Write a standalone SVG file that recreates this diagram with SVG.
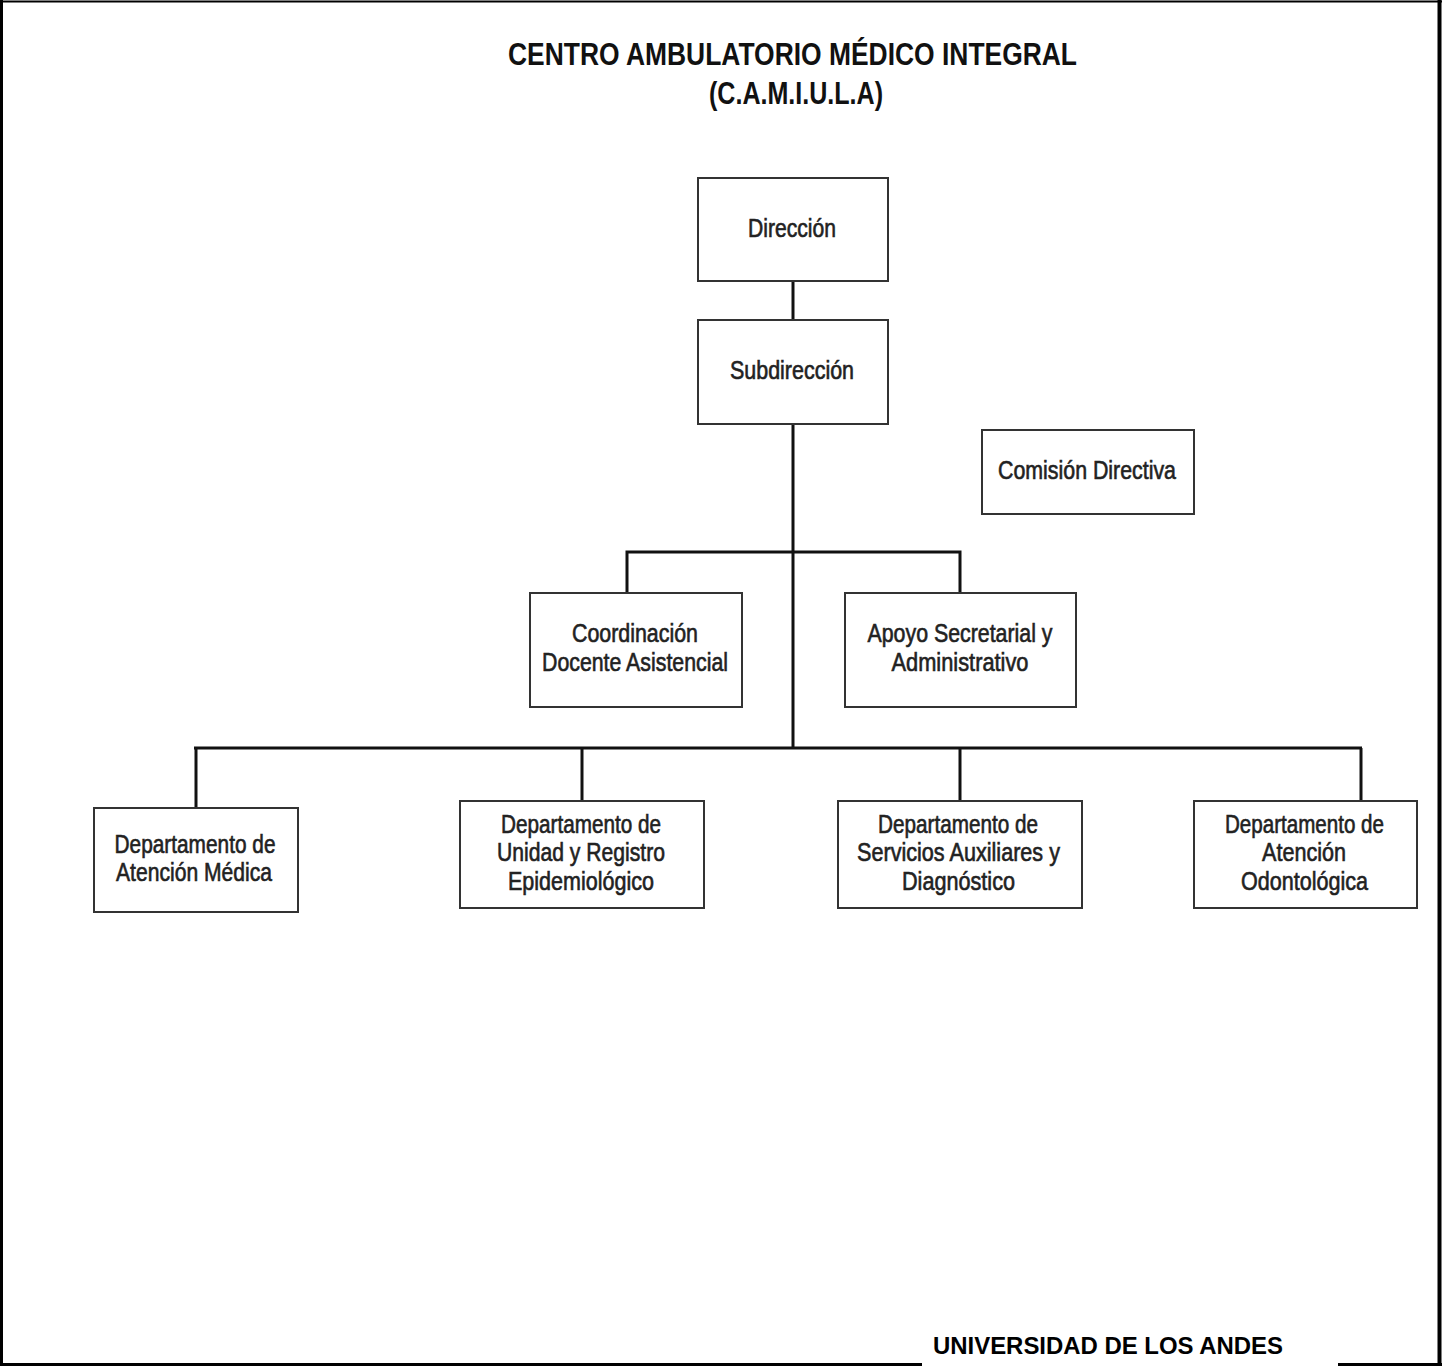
<svg xmlns="http://www.w3.org/2000/svg" width="1442" height="1367" viewBox="0 0 1442 1367">
<style>
.box{fill:#fff;stroke:#333;stroke-width:2}
.lbl{font-family:"Liberation Sans",Arial,sans-serif;font-size:25px;fill:#222;stroke:#222;stroke-width:0.6;text-anchor:middle}
.ttl{font-family:"Liberation Sans",Arial,sans-serif;font-size:32px;font-weight:bold;fill:#111;text-anchor:middle}
.conn{fill:none;stroke:#111;stroke-width:3}
.frame{fill:none;stroke:#000}
</style>
<rect width="1442" height="1367" fill="#fff"/>
<g id="frame">
<line class="frame" x1="0" y1="1.5" x2="1442" y2="1.5" stroke-width="2"/>
<line class="frame" x1="1.5" y1="0" x2="1.5" y2="1366" stroke-width="3"/>
<line class="frame" x1="1439.5" y1="0" x2="1439.5" y2="1366" stroke-width="4"/>
<line class="frame" x1="0" y1="1364.5" x2="922" y2="1364.5" stroke-width="3"/>
<line class="frame" x1="1338" y1="1364.5" x2="1442" y2="1364.5" stroke-width="3"/>
</g>
<g id="title">
<text class="ttl" x="792.5" y="65" textLength="569" lengthAdjust="spacingAndGlyphs">CENTRO AMBULATORIO MÉDICO INTEGRAL</text>
<text class="ttl" x="796" y="104" textLength="174" lengthAdjust="spacingAndGlyphs">(C.A.M.I.U.L.A)</text>
</g>
<g id="connectors">
<line class="conn" x1="793" y1="281" x2="793" y2="320"/>
<line class="conn" x1="793" y1="424" x2="793" y2="749"/>
<polyline class="conn" points="627,593 627,552 960,552 960,593"/>
<line class="conn" x1="194" y1="748" x2="1362" y2="748"/>
<line class="conn" x1="196" y1="748" x2="196" y2="808"/>
<line class="conn" x1="582" y1="748" x2="582" y2="801" stroke-width="2"/>
<line class="conn" x1="960" y1="748" x2="960" y2="801" stroke-width="2"/>
<line class="conn" x1="1361" y1="748" x2="1361" y2="801"/>
</g>
<g id="direccion">
<rect class="box" x="698" y="178" width="190" height="103"/>
<text class="lbl" x="792" y="237" textLength="88" lengthAdjust="spacingAndGlyphs">Dirección</text>
</g>
<g id="subdireccion">
<rect class="box" x="698" y="320" width="190" height="104"/>
<text class="lbl" x="792" y="379" textLength="124" lengthAdjust="spacingAndGlyphs">Subdirección</text>
</g>
<g id="comision">
<rect class="box" x="982" y="430" width="212" height="84"/>
<text class="lbl" x="1087" y="479" textLength="178" lengthAdjust="spacingAndGlyphs">Comisión Directiva</text>
</g>
<g id="coordinacion">
<rect class="box" x="530" y="593" width="212" height="114"/>
<text class="lbl" x="635" y="642" textLength="126" lengthAdjust="spacingAndGlyphs">Coordinación</text>
<text class="lbl" x="635" y="671" textLength="186" lengthAdjust="spacingAndGlyphs">Docente Asistencial</text>
</g>
<g id="apoyo">
<rect class="box" x="845" y="593" width="231" height="114"/>
<text class="lbl" x="960" y="642" textLength="185" lengthAdjust="spacingAndGlyphs">Apoyo Secretarial y</text>
<text class="lbl" x="960" y="671" textLength="137" lengthAdjust="spacingAndGlyphs">Administrativo</text>
</g>
<g id="dept-atencion-medica">
<rect class="box" x="94" y="808" width="204" height="104"/>
<text class="lbl" x="195" y="853" textLength="161" lengthAdjust="spacingAndGlyphs">Departamento de</text>
<text class="lbl" x="194" y="881" textLength="156" lengthAdjust="spacingAndGlyphs">Atención Médica</text>
</g>
<g id="dept-unidad-registro">
<rect class="box" x="460" y="801" width="244" height="107"/>
<text class="lbl" x="581" y="833" textLength="160" lengthAdjust="spacingAndGlyphs">Departamento de</text>
<text class="lbl" x="581" y="861" textLength="168" lengthAdjust="spacingAndGlyphs">Unidad y Registro</text>
<text class="lbl" x="581" y="890" textLength="146" lengthAdjust="spacingAndGlyphs">Epidemiológico</text>
</g>
<g id="dept-servicios">
<rect class="box" x="838" y="801" width="244" height="107"/>
<text class="lbl" x="958" y="833" textLength="160" lengthAdjust="spacingAndGlyphs">Departamento de</text>
<text class="lbl" x="958.5" y="861" textLength="203" lengthAdjust="spacingAndGlyphs">Servicios Auxiliares y</text>
<text class="lbl" x="958.5" y="890" textLength="113" lengthAdjust="spacingAndGlyphs">Diagnóstico</text>
</g>
<g id="dept-odontologica">
<rect class="box" x="1194" y="801" width="223" height="107"/>
<text class="lbl" x="1304.5" y="833" textLength="159" lengthAdjust="spacingAndGlyphs">Departamento de</text>
<text class="lbl" x="1304" y="861" textLength="84" lengthAdjust="spacingAndGlyphs">Atención</text>
<text class="lbl" x="1304.5" y="890" textLength="127" lengthAdjust="spacingAndGlyphs">Odontológica</text>
</g>
<g id="footer">
<text x="1108" y="1354" font-family="'Liberation Sans',Arial,sans-serif" font-size="24" font-weight="bold" text-anchor="middle" fill="#000" textLength="350" lengthAdjust="spacingAndGlyphs">UNIVERSIDAD DE LOS ANDES</text>
</g>
</svg>
